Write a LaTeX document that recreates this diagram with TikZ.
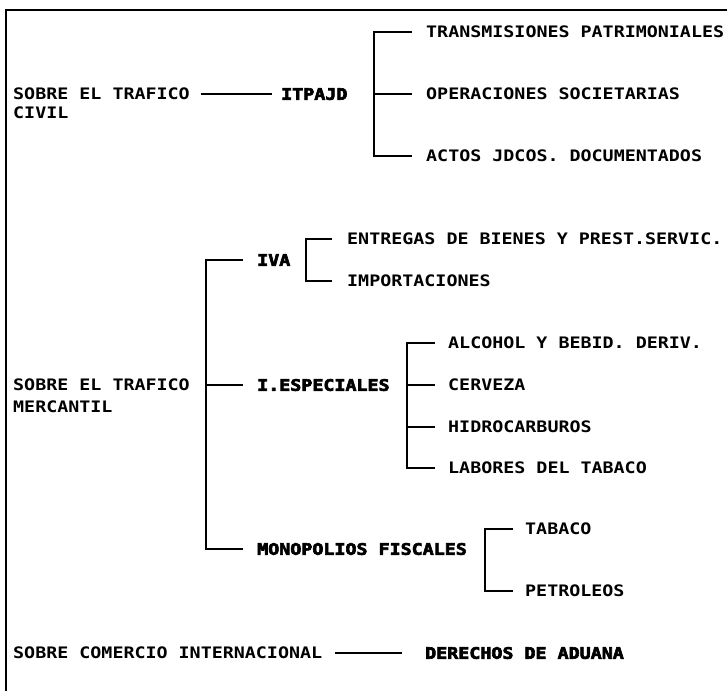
\documentclass[tikz,border=0pt]{standalone}
\usepackage{fontspec}
\usetikzlibrary{calc}
\newfontfamily\rfont{DejaVu Sans Mono Bold}[FakeStretch=1.16]
\newfontfamily\bfontx{DejaVu Sans Mono Bold}[FakeStretch=1.16,FakeBold=4]
\tikzset{
  lbl/.style={inner sep=0pt, anchor=west, text height=11.5pt, text depth=0pt,
              font=\rfont\fontsize{15.8pt}{19pt}\selectfont},
  blbl/.style={lbl, font=\bfontx\fontsize{15.8pt}{19pt}\selectfont},
  conn/.style={line width=1.9pt},
  frame/.style={line width=2.6pt}
}
\begin{document}
\begin{tikzpicture}[x=1pt,y=-1pt]
\useasboundingbox (0,0) rectangle (727,691);
% frame
\coordinate (fa) at (6,691);
\coordinate (fb) at (6,10);
\coordinate (fc) at (727,10);
\draw[frame] (fa) -- (fb) -- (fc);

% ---- trafico civil
\node[lbl]  (civ)  at (13,94)  {SOBRE EL TRAFICO};
\node[lbl]  (civb) at (13,113) {CIVIL};
\node[blbl] (itp)  at (281,94) {ITPAJD};
\draw[conn, shorten <=11pt, shorten >=9pt] (civ.east) -- (itp.west);
\coordinate (sp1) at (374,94);
\node[lbl] (t1) at (426,32)  {TRANSMISIONES PATRIMONIALES};
\node[lbl] (t2) at (426,94)  {OPERACIONES SOCIETARIAS};
\node[lbl] (t3) at (426,156) {ACTOS JDCOS. DOCUMENTADOS};
\draw[conn] ($(t1.west)+(-14,0)$) -| (sp1 |- t3.west) -- ($(t3.west)+(-14,0)$);
\draw[conn] (sp1 |- t2.west) -- ($(t2.west)+(-14,0)$);

% ---- trafico mercantil
\node[lbl]  (mer)  at (13,385) {SOBRE EL TRAFICO};
\node[lbl]  (merb) at (13,407) {MERCANTIL};
\coordinate (sp0) at (206,385);
\node[blbl] (iva) at (257,260) {IVA};
\node[blbl] (ies) at (257,385) {I.ESPECIALES};
\node[blbl] (mon) at (257,549) {MONOPOLIOS FISCALES};
\draw[conn] ($(iva.west)+(-14,0)$) -| (sp0 |- mon.west) -- ($(mon.west)+(-14,0)$);
\draw[conn] (sp0 |- ies.west) -- ($(ies.west)+(-14,0)$);

% IVA
\coordinate (sp2) at (306,260);
\node[lbl] (e1) at (347,239) {ENTREGAS DE BIENES Y PREST.SERVIC.};
\node[lbl] (e2) at (347,281) {IMPORTACIONES};
\draw[conn] ($(e1.west)+(-15,0)$) -| (sp2 |- e2.west) -- ($(e2.west)+(-15,0)$);

% I.ESPECIALES
\coordinate (sp3) at (407,385);
\node[lbl] (a1) at (448,343) {ALCOHOL Y BEBID. DERIV.};
\node[lbl] (a2) at (448,385) {CERVEZA};
\node[lbl] (a3) at (448,427) {HIDROCARBUROS};
\node[lbl] (a4) at (448,468) {LABORES DEL TABACO};
\draw[conn] ($(a1.west)+(-13,0)$) -| (sp3 |- a4.west) -- ($(a4.west)+(-13,0)$);
\draw[conn] (sp3 |- a2.west) -- ($(a2.west)+(-13,0)$);
\draw[conn] (sp3 |- a3.west) -- ($(a3.west)+(-13,0)$);

% MONOPOLIOS
\coordinate (sp4) at (485,560);
\node[lbl] (m1) at (525,529) {TABACO};
\node[lbl] (m2) at (525,591) {PETROLEOS};
\draw[conn] ($(m1.west)+(-12,0)$) -| (sp4 |- m2.west) -- ($(m2.west)+(-12,0)$);

% ---- comercio internacional
\node[lbl]  (com) at (13,653)  {SOBRE COMERCIO INTERNACIONAL};
\node[blbl] (der) at (425,653) {DERECHOS DE ADUANA};
\draw[conn, shorten <=13pt, shorten >=23pt] (com.east) -- (der.west);
\end{tikzpicture}
\end{document}
